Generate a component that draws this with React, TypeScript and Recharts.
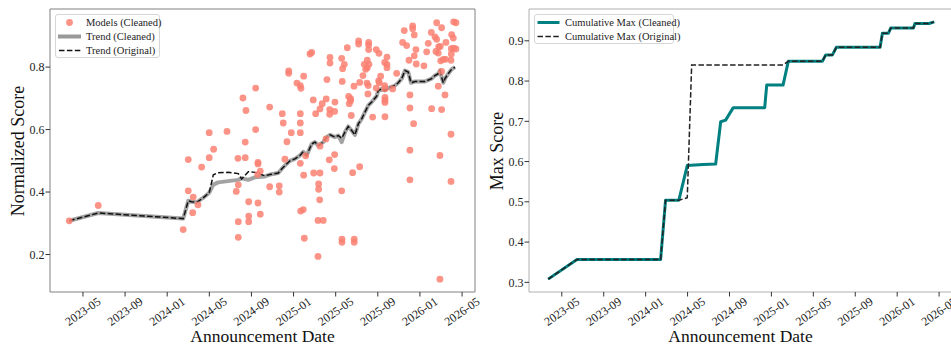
import React from "react";
import { ComposedChart, Scatter, Line, XAxis, YAxis, ReferenceArea } from "recharts";

const FONT = '"Liberation Serif", "Times New Roman", serif';

// x values are months since 2023-01-01
const monthTicks = [4, 8, 12, 16, 20, 24, 28, 32, 36, 40];
const monthLabels = ["2023-05", "2023-09", "2024-01", "2024-05", "2024-09", "2025-01", "2025-05", "2025-09", "2026-01", "2026-05"];
const X_DOMAIN = [0.87, 41.23];

const scoreTicks = [0.2, 0.4, 0.6, 0.8];
const maxTicks = [0.3, 0.4, 0.5, 0.6, 0.7, 0.8, 0.9];

const modelMonths = [
  2.70, 5.45, 13.52, 14.00, 14.00, 14.47, 14.42, 14.92, 15.27, 15.99, 15.99, 16.41, 17.68,
  18.56, 18.72, 18.75, 18.75, 18.75, 19.19, 19.41, 19.41, 19.48, 19.74, 19.74, 19.74,
  20.40, 20.40, 20.59, 20.62, 20.62, 20.62, 20.84, 20.84, 21.73, 21.73, 22.64, 22.64,
  22.93, 23.02, 23.18, 23.37, 23.54, 23.54, 23.78, 24.32, 24.64, 24.70, 24.64, 24.64,
  24.64, 24.64, 24.67, 24.92, 24.96, 24.96, 25.02, 25.15, 25.56, 25.72, 25.87, 25.91,
  26.10, 26.32, 26.32, 26.38, 26.38, 26.48, 26.51, 26.51, 26.51, 26.72, 26.82, 27.08,
  27.10, 27.17, 27.39, 27.43, 27.43, 27.46, 27.46, 27.87, 27.90, 27.90, 27.93, 28.57,
  28.57, 28.60, 28.60, 28.62, 28.66, 28.82, 29.10, 29.23, 29.42, 29.42, 29.29, 29.48,
  29.61, 29.74, 29.76, 29.76, 30.18, 30.18, 30.28, 30.28, 30.59, 30.71, 30.85, 31.00,
  31.00, 30.97, 31.06, 31.09, 31.13, 31.13, 31.13, 31.16, 31.51, 31.85, 31.85, 32.08,
  32.11, 32.14, 32.27, 32.65, 32.65, 32.68, 32.68, 32.68, 32.68, 32.68, 32.87, 32.87,
  32.87, 33.41, 33.79, 34.36, 34.51, 34.74, 34.96, 35.05, 35.05, 35.05, 35.05, 35.31,
  35.31, 35.40, 35.46, 35.46, 35.62, 35.65, 36.38, 36.64, 36.79, 37.08, 37.11, 37.43,
  37.52, 37.59, 37.59, 37.74, 37.74, 37.78, 37.90, 37.90, 37.93, 37.97, 38.06, 38.06,
  38.06, 38.22, 38.38, 38.44, 38.47, 38.95, 38.95, 38.95, 38.98, 38.98, 39.01, 39.17,
  39.20, 39.20, 39.42, 39.42,
];
const modelScores = [
  0.308, 0.357, 0.280, 0.504, 0.404, 0.384, 0.334, 0.359, 0.480, 0.590, 0.510, 0.537, 0.594,
  0.402, 0.508, 0.423, 0.305, 0.255, 0.701, 0.560, 0.510, 0.661, 0.369, 0.323, 0.305,
  0.733, 0.600, 0.456, 0.495, 0.490, 0.365, 0.467, 0.329, 0.672, 0.417, 0.420, 0.400,
  0.651, 0.621, 0.505, 0.561, 0.788, 0.780, 0.590, 0.749, 0.741, 0.732, 0.651, 0.621,
  0.590, 0.492, 0.339, 0.344, 0.771, 0.454, 0.252, 0.516, 0.842, 0.847, 0.695, 0.461,
  0.651, 0.309, 0.194, 0.426, 0.409, 0.375, 0.666, 0.547, 0.461, 0.683, 0.309, 0.570,
  0.698, 0.760, 0.503, 0.664, 0.649, 0.831, 0.813, 0.475, 0.658, 0.520, 0.688, 0.828,
  0.404, 0.249, 0.239, 0.754, 0.795, 0.809, 0.862, 0.706, 0.699, 0.692, 0.683, 0.645,
  0.462, 0.739, 0.249, 0.239, 0.884, 0.874, 0.751, 0.481, 0.773, 0.809, 0.793, 0.822,
  0.798, 0.749, 0.714, 0.741, 0.879, 0.871, 0.856, 0.809, 0.640, 0.856, 0.733, 0.756,
  0.844, 0.750, 0.771, 0.815, 0.741, 0.731, 0.703, 0.694, 0.687, 0.641, 0.832, 0.809,
  0.798, 0.730, 0.780, 0.879, 0.917, 0.869, 0.822, 0.711, 0.669, 0.534, 0.439, 0.932,
  0.923, 0.619, 0.903, 0.836, 0.856, 0.810, 0.804, 0.849, 0.876, 0.911, 0.667, 0.897,
  0.850, 0.942, 0.889, 0.845, 0.739, 0.865, 0.517, 0.121, 0.866, 0.820, 0.926, 0.786,
  0.664, 0.825, 0.711, 0.825, 0.879, 0.822, 0.585, 0.434, 0.859, 0.842, 0.904, 0.893,
  0.945, 0.861, 0.942, 0.858,
];

const trendMonths = [
  2.70, 5.45, 13.52, 14.00, 14.32, 14.80, 15.40, 15.99, 16.38, 16.85,
  17.77, 18.75, 19.07, 19.70, 20.33, 21.28, 21.76, 22.55, 22.87, 23.34,
  23.66, 24.13, 24.61, 24.92, 25.24, 25.72, 26.03, 26.35, 26.82, 27.14,
  27.46, 27.93, 28.25, 28.57, 28.88, 29.19, 29.52, 29.83, 30.15, 30.47,
  30.78, 31.09, 31.42, 31.89, 32.04, 32.37, 32.68, 32.99, 33.63, 33.94,
  34.27, 34.58, 34.89, 35.15, 35.53, 36.48, 37.11, 37.43, 37.74, 37.90,
  38.06, 38.22, 38.38, 38.69, 39.01, 39.33,
];
const trendCleaned = [
  0.308, 0.333, 0.315, 0.372, 0.369, 0.367, 0.381, 0.398, 0.424, 0.431,
  0.435, 0.439, 0.444, 0.439, 0.447, 0.450, 0.456, 0.461, 0.474, 0.490,
  0.500, 0.506, 0.517, 0.529, 0.517, 0.554, 0.560, 0.549, 0.560, 0.576,
  0.583, 0.576, 0.581, 0.560, 0.592, 0.610, 0.597, 0.583, 0.618, 0.634,
  0.656, 0.677, 0.688, 0.707, 0.725, 0.731, 0.725, 0.733, 0.741, 0.750,
  0.763, 0.789, 0.784, 0.750, 0.754, 0.754, 0.763, 0.773, 0.779, 0.789,
  0.768, 0.750, 0.763, 0.779, 0.793, 0.800,
];
const trendOriginal = [
  0.308, 0.333, 0.315, 0.372, 0.369, 0.367, 0.381, 0.398, 0.455, 0.462,
  0.463, 0.459, 0.442, 0.465, 0.463, 0.452, 0.456, 0.461, 0.474, 0.490,
  0.500, 0.506, 0.517, 0.529, 0.517, 0.554, 0.560, 0.549, 0.560, 0.576,
  0.583, 0.576, 0.581, 0.572, 0.592, 0.610, 0.597, 0.583, 0.618, 0.634,
  0.656, 0.677, 0.688, 0.707, 0.725, 0.731, 0.725, 0.733, 0.741, 0.750,
  0.763, 0.789, 0.784, 0.750, 0.754, 0.754, 0.763, 0.773, 0.779, 0.789,
  0.768, 0.750, 0.763, 0.779, 0.793, 0.800,
];

const cumMonthsCleaned = [
  2.70, 5.45, 13.43, 13.90, 15.17, 15.97, 17.50, 18.68, 19.16, 19.63, 20.36, 23.36, 23.55, 25.11,
  25.61, 28.86, 29.18, 29.82, 30.20, 34.37, 34.59, 35.17, 35.39, 37.55, 37.69, 39.05, 39.53,
];
const cumMaxCleaned = [
  0.308, 0.357, 0.357, 0.504, 0.504, 0.590, 0.593, 0.594, 0.699, 0.703, 0.734, 0.734, 0.790, 0.790,
  0.849, 0.849, 0.865, 0.865, 0.884, 0.884, 0.919, 0.919, 0.932, 0.932, 0.943, 0.943, 0.947,
];
const cumMonthsOriginal = [
  2.70, 5.45, 13.43, 13.90, 15.17, 15.97, 16.39, 25.11, 25.61, 28.86, 29.18, 29.82, 30.20,
  34.37, 34.59, 35.17, 35.39, 37.55, 37.69, 39.05, 39.53,
];
const cumMaxOriginal = [
  0.308, 0.357, 0.357, 0.504, 0.504, 0.510, 0.840, 0.840, 0.849, 0.849, 0.865, 0.865, 0.884,
  0.884, 0.919, 0.919, 0.932, 0.932, 0.943, 0.943, 0.947,
];

const zip = (xs: number[], ys: number[]) => xs.map((m, i) => ({ m, v: ys[i] }));

const models = zip(modelMonths, modelScores);
const trendC = zip(trendMonths, trendCleaned);
const trendO = zip(trendMonths, trendOriginal);
const cumC = zip(cumMonthsCleaned, cumMaxCleaned);
const cumO = zip(cumMonthsOriginal, cumMaxOriginal);

const DateTick = ({ x, y, payload }: any) => {
  const idx = monthTicks.indexOf(payload.value);
  return (
    <g transform={`translate(${x},${y + 13}) rotate(-35)`}>
      <text textAnchor="middle" dominantBaseline="central" fontSize={12} fill="#222" fontFamily={FONT}>
        {monthLabels[idx]}
      </text>
    </g>
  );
};

const Dot = (p: any) => <circle cx={p.cx} cy={p.cy} r={3.4} fill="#fa8072" fillOpacity={0.85} />;

const yTick = { fontSize: 12, fill: "#222", fontFamily: FONT };

const AxisTitle = ({ x, y, text, size, rotate }: { x: number; y: number; text: string; size: number; rotate?: boolean }) => (
  <div
    style={{
      position: "absolute", left: x, top: y, whiteSpace: "nowrap", fontSize: size, color: "#111", lineHeight: 1,
      transform: `translate(-50%, -50%)${rotate ? " rotate(-90deg)" : ""}`,
    }}
  >
    {text}
  </div>
);

const LegendBox = ({ left, top, width, rows }: { left: number; top: number; width: number; rows: { marker: React.ReactNode; label: string }[] }) => (
  <div
    style={{
      position: "absolute", left, top, width, height: rows.length * 13.6 + 3, boxSizing: "border-box",
      border: "1px solid #d6d6d6", borderRadius: 3, background: "rgba(255,255,255,0.85)",
    }}
  >
    {rows.map((r, i) => (
      <div key={r.label} style={{ position: "absolute", left: 1, top: 1 + i * 13.8, height: 13, display: "flex", alignItems: "center" }}>
        <svg width={27} height={13}>{r.marker}</svg>
        <span style={{ fontSize: 10.5, marginLeft: 2, color: "#222", whiteSpace: "nowrap" }}>{r.label}</span>
      </div>
    ))}
  </div>
);

export default function App() {
  return (
    <div style={{ position: "relative", width: 951, height: 349, overflow: "hidden", background: "#fff", fontFamily: FONT }}>
      <style>{"body{margin:0}"}</style>

      <div style={{ position: "absolute", left: 0, top: 0 }}>
        <ComposedChart width={495} height={349} margin={{ top: 9, right: 20, bottom: 0, left: 0 }}>
          <XAxis type="number" dataKey="m" domain={X_DOMAIN} ticks={monthTicks} interval={0} allowDataOverflow
            tick={<DateTick />} tickSize={4.5} tickLine={{ stroke: "#333" }} axisLine={false} height={57} />
          <YAxis type="number" dataKey="v" domain={[0.08, 0.986]} ticks={scoreTicks} allowDataOverflow width={50}
            tick={yTick} tickSize={4.5} tickMargin={1} tickLine={{ stroke: "#333" }} axisLine={false}
            tickFormatter={(v: number) => v.toFixed(1)} />
          <ReferenceArea x1={X_DOMAIN[0]} x2={X_DOMAIN[1]} y1={0.08} y2={0.986} fill="none" stroke="#808080" strokeWidth={1} />
          <Scatter data={models} dataKey="v" shape={Dot} isAnimationActive={false} />
          <Line data={trendC} dataKey="v" type="linear" stroke="#999999" strokeWidth={4} strokeOpacity={0.9}
            strokeLinejoin="round" dot={false} activeDot={false} isAnimationActive={false} />
          <Line data={trendO} dataKey="v" type="linear" stroke="#111" strokeWidth={1.5} strokeDasharray="5.5 2.4"
            dot={false} activeDot={false} isAnimationActive={false} />
        </ComposedChart>
      </div>

      <div style={{ position: "absolute", left: 480, top: 0 }}>
        <ComposedChart width={480} height={349} margin={{ top: 9, right: 8, bottom: 0, left: 0 }}>
          <XAxis type="number" dataKey="m" domain={X_DOMAIN} ticks={monthTicks} interval={0} allowDataOverflow
            tick={<DateTick />} tickSize={4.5} tickLine={{ stroke: "#333" }} axisLine={false} height={57} />
          <YAxis type="number" dataKey="v" domain={[0.276, 0.979]} ticks={maxTicks} allowDataOverflow width={49}
            tick={yTick} tickSize={4.5} tickMargin={1} tickLine={{ stroke: "#333" }} axisLine={false}
            tickFormatter={(v: number) => v.toFixed(1)} />
          <ReferenceArea x1={X_DOMAIN[0]} x2={X_DOMAIN[1]} y1={0.276} y2={0.979} fill="none" stroke="#b0b0b0" strokeWidth={1} />
          <Line data={cumC} dataKey="v" type="linear" stroke="#008080" strokeWidth={3}
            strokeLinejoin="round" dot={false} activeDot={false} isAnimationActive={false} />
          <Line data={cumO} dataKey="v" type="linear" stroke="#222" strokeWidth={1.5} strokeDasharray="5.5 2.4"
            dot={false} activeDot={false} isAnimationActive={false} />
        </ComposedChart>
      </div>

      <AxisTitle x={18} y={150.5} size={18} text="Normalized Score" rotate />
      <AxisTitle x={262.5} y={337} size={17.5} text="Announcement Date" />
      <AxisTitle x={497} y={150.5} size={18} text="Max Score" rotate />
      <AxisTitle x={740.5} y={337} size={17.5} text="Announcement Date" />

      <LegendBox left={55} top={14} width={105} rows={[
        { label: "Models (Cleaned)", marker: <circle cx={12.5} cy={6.5} r={3.4} fill="#fa8072" fillOpacity={0.85} /> },
        { label: "Trend (Cleaned)", marker: <line x1={1} x2={24} y1={6.5} y2={6.5} stroke="#999" strokeWidth={4} /> },
        { label: "Trend (Original)", marker: <line x1={2} x2={24} y1={6.5} y2={6.5} stroke="#111" strokeWidth={1.5} strokeDasharray="5.5 2.4" /> },
      ]} />
      <LegendBox left={534} top={14} width={140} rows={[
        { label: "Cumulative Max (Cleaned)", marker: <line x1={1.5} x2={23.5} y1={6.5} y2={6.5} stroke="#008080" strokeWidth={3} /> },
        { label: "Cumulative Max (Original)", marker: <line x1={1.5} x2={23.5} y1={6.5} y2={6.5} stroke="#222" strokeWidth={1.5} strokeDasharray="5.5 2.4" /> },
      ]} />
    </div>
  );
}
